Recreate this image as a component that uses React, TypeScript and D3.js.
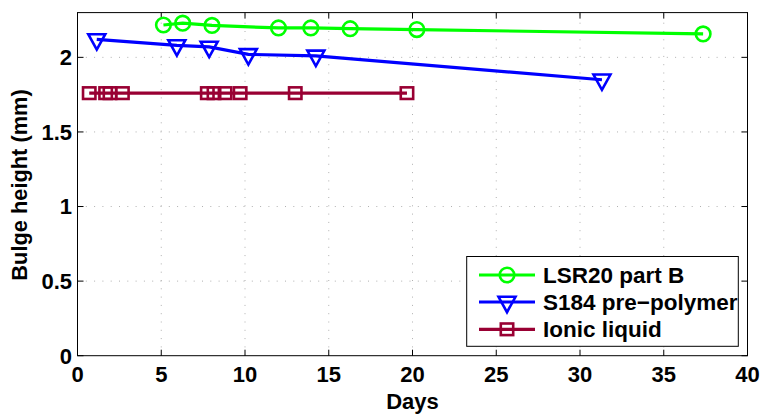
import React from "react";
import * as d3 from "d3";

const lsrDays = [5.13, 6.28, 8.03, 12.0, 13.93, 16.28, 20.26, 37.35];
const lsrHeight = [2.217, 2.229, 2.214, 2.197, 2.197, 2.192, 2.186, 2.157];
const s184Days = [1.15, 5.93, 7.86, 10.2, 14.23, 31.31];
const s184Height = [2.12, 2.08, 2.07, 2.02, 2.01, 1.85];
const ionicDays = [0.7, 1.68, 1.94, 2.68, 7.75, 8.15, 8.81, 9.71, 13.0, 19.67];
const ionicHeight = [1.76, 1.76, 1.76, 1.76, 1.76, 1.76, 1.76, 1.76, 1.76, 1.76];
const xTicks = [0, 5, 10, 15, 20, 25, 30, 35, 40];
const yTicks = [0, 0.5, 1, 1.5, 2];
const seriesNames = ["LSR20 part B", "S184 pre\u2212polymer", "Ionic liquid"];

const W = 762, H = 415;
const left = 77.5, right = 747.5, top = 12.6, bottom = 355.7;
const FONT = "'Liberation Sans', Arial, Helvetica, sans-serif";

type Kind = "circle" | "tri" | "square";

function Marker({ kind, x, y, color }: { kind: Kind; x: number; y: number; color: string }) {
  const sw = 2.6;
  if (kind === "circle") return <circle cx={x} cy={y} r={7.3} fill="none" stroke={color} strokeWidth={sw} />;
  if (kind === "tri")
    return (
      <path
        d={`M${x - 8.5},${y - 5.2} L${x + 8.5},${y - 5.2} L${x},${y + 10.2} Z`}
        fill="none"
        stroke={color}
        strokeWidth={sw}
        strokeLinejoin="miter"
      />
    );
  return <rect x={x - 6.2} y={y - 5.8} width={12.4} height={11.6} fill="none" stroke={color} strokeWidth={sw} />;
}

export default function App() {
  const x = d3.scaleLinear().domain([0, 40]).range([left, right]);
  const y = d3.scaleLinear().domain([0, 2.3]).range([bottom, top]);
  const line = d3
    .line<[number, number]>()
    .x((d) => x(d[0]))
    .y((d) => y(d[1]));

  const series: { name: string; color: string; kind: Kind; pts: [number, number][] }[] = [
    { name: seriesNames[0], color: "#00ff00", kind: "circle", pts: lsrDays.map((d, i) => [d, lsrHeight[i]]) },
    { name: seriesNames[1], color: "#0000ff", kind: "tri", pts: s184Days.map((d, i) => [d, s184Height[i]]) },
    { name: seriesNames[2], color: "#990033", kind: "square", pts: ionicDays.map((d, i) => [d, ionicHeight[i]]) },
  ];

  const tickLen = 6;
  const legX = 466.7, legY = 256.5, legW = 271.6, legH = 89.8;
  const legRows = [275, 302, 329.3];

  return (
    <svg width={W} height={H} style={{ position: "absolute", left: 0, top: 0, background: "#fff" }} fontFamily={FONT}>
      <rect x={0} y={0} width={W} height={H} fill="#fff" />
      {xTicks.slice(1, -1).map((t) => (
        <line key={"gx" + t} x1={x(t)} x2={x(t)} y1={bottom} y2={top} stroke="#b0b0b0" strokeWidth={1} strokeDasharray="1,7.3" />
      ))}
      {yTicks.slice(1).map((t) => (
        <line key={"gy" + t} x1={left} x2={right} y1={y(t)} y2={y(t)} stroke="#b0b0b0" strokeWidth={1} strokeDasharray="1,7.3" />
      ))}
      {xTicks.map((t) => (
        <g key={"tx" + t}>
          <line x1={x(t)} x2={x(t)} y1={bottom} y2={bottom - tickLen} stroke="#000" />
          <line x1={x(t)} x2={x(t)} y1={top} y2={top + tickLen} stroke="#000" />
          <text x={x(t)} y={382} textAnchor="middle" fontSize={22} fontWeight="bold">
            {t}
          </text>
        </g>
      ))}
      {yTicks.map((t) => (
        <g key={"ty" + t}>
          <line x1={left} x2={left + tickLen} y1={y(t)} y2={y(t)} stroke="#000" />
          <line x1={right} x2={right - tickLen} y1={y(t)} y2={y(t)} stroke="#000" />
          <text x={72} y={y(t)} dy="0.36em" textAnchor="end" fontSize={22} fontWeight="bold">
            {t}
          </text>
        </g>
      ))}
      <rect x={left} y={top} width={right - left} height={bottom - top} fill="none" stroke="#000" strokeWidth={1} />
      {series.map((s) => (
        <g key={s.name}>
          <path d={line(s.pts) || ""} fill="none" stroke={s.color} strokeWidth={3.2} />
          {s.pts.map((p, i) => (
            <Marker key={i} kind={s.kind} x={x(p[0])} y={y(p[1])} color={s.color} />
          ))}
        </g>
      ))}
      <text x={(left + right) / 2} y={409} textAnchor="middle" fontSize={22} fontWeight="bold">
        Days
      </text>
      <text transform={`translate(27,185) rotate(-90)`} textAnchor="middle" fontSize={21.8} fontWeight="bold">
        Bulge height (mm)
      </text>
      <rect x={legX} y={legY} width={legW} height={legH} fill="#fff" stroke="#000" strokeWidth={1} />
      {series.map((s, i) => (
        <g key={"leg" + i}>
          <line x1={479} x2={535} y1={legRows[i]} y2={legRows[i]} stroke={s.color} strokeWidth={3.2} />
          <Marker kind={s.kind} x={507} y={legRows[i]} color={s.color} />
          <text x={543} y={legRows[i]} dy="0.36em" fontSize={22.5} fontWeight="bold">
            {s.name}
          </text>
        </g>
      ))}
    </svg>
  );
}
